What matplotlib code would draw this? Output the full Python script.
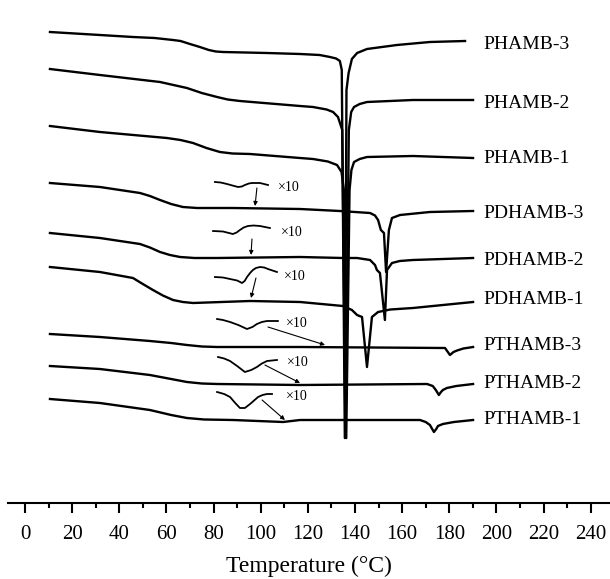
import matplotlib
matplotlib.use("agg")
import matplotlib.pyplot as plt

plt.rcParams['font.family'] = ['Liberation Serif', 'DejaVu Serif']

# DSC heating curves, temperature (deg C) and stacked heat flow (a.u.)
labels = ["PHAMB-3", "PHAMB-2", "PHAMB-1",
          "PDHAMB-3", "PDHAMB-2", "PDHAMB-1",
          "PTHAMB-3", "PTHAMB-2", "PTHAMB-1"]

phamb3_t = [10.6, 31.8, 45.8, 55.0, 62.8, 66.0, 70.0, 74.2, 78.0, 81.0, 84.0,
            102.7, 116.7, 125.0, 129.4, 132.0, 133.6, 134.4, 135.7, 136.4,
            137.3, 138.7, 140.9, 145.1, 157.8, 171.8, 186.7]
phamb3_v = [471, 468, 466, 465, 463, 462, 459, 456, 453, 451.5, 451,
            450, 449, 448, 446, 444.5, 442, 433, 65, 413,
            430, 444, 450, 454, 458, 461, 462]

phamb2_t = [10.6, 31.8, 57.3, 63.0, 68.7, 75.0, 81.5, 86.0, 91.2, 116.7, 122.2,
            128.0, 130.7, 132.8, 134.6, 136.0, 137.4, 138.4, 139.6, 142.0,
            145.1, 164.6, 190.1]
phamb2_v = [434, 428, 421, 418, 415, 410, 406, 403.5, 402, 397, 396,
            393.5, 391, 386, 373, 65, 373, 391, 396, 399,
            401, 403, 403]

phamb1_t = [10.6, 31.8, 60.2, 66.0, 71.3, 77.0, 82.7, 88.0, 95.5, 116.7, 122.2,
            128.5, 132.4, 134.3, 135.3, 136.3, 137.7, 138.5, 139.6, 142.0,
            145.1, 164.6, 190.1]
phamb1_v = [377, 371, 365, 363, 360, 355, 351, 349.5, 349, 345, 344,
            341.5, 338, 331, 313, 65, 313, 333, 341, 344,
            346, 347, 345]

pdhamb3_t = [10.6, 31.8, 48.8, 53.0, 57.3, 62.0, 67.0, 73.0, 88.2, 116.7, 133.6,
             146.4, 148.5, 149.8, 151.0, 152.3, 153.2, 154.4, 155.7, 159.1,
             171.8, 190.1]
pdhamb3_v = [320, 316, 310, 307, 303, 299, 296, 295, 295, 294, 292,
             290, 287.5, 283, 273, 270, 231, 273, 285, 288,
             291, 292]

pdhamb2_t = [10.6, 31.8, 48.8, 53.0, 57.3, 61.5, 65.8, 72.0, 81.5, 116.7, 134.9,
             140.9, 146.4, 148.5, 149.3, 150.6, 152.7, 153.6, 155.7, 159.0,
             164.6, 190.1]
pdhamb2_v = [270, 265, 259, 255.5, 251, 248, 246, 245, 245, 246, 245,
             245, 243, 238, 233, 230, 183, 233, 240, 242,
             243, 245]

pdhamb1_t = [10.6, 31.8, 45.8, 50.0, 54.3, 58.5, 62.8, 67.0, 71.3, 95.5, 116.7,
             134.9, 138.7, 140.9, 143.0, 145.1, 147.2, 149.8, 155.0, 164.6,
             190.1]
pdhamb1_v = [236, 231, 225, 219, 213, 207.5, 203, 201, 200, 202, 201,
             197, 193, 188, 186, 136, 186, 191, 193.5, 195,
             201]

pthamb3_t = [10.6, 31.8, 53.0, 62.0, 68.7, 75.0, 81.5, 116.7, 178.2, 180.3,
             181.8, 183.3, 186.0, 190.1]
pthamb3_v = [169, 166, 162, 160, 158, 156.5, 156, 156, 155, 148,
             151, 152.5, 154.5, 156]

pthamb2_t = [10.6, 31.8, 53.0, 62.0, 68.7, 75.0, 81.5, 116.7, 170.6, 173.0,
             174.3, 175.6, 176.5, 177.3, 179.0, 183.0, 190.1]
pthamb2_v = [137, 134, 128, 124, 121, 119.5, 119, 118, 119, 117,
             113, 108, 111, 113, 115, 117, 119]

pthamb1_t = [10.6, 31.8, 53.0, 62.0, 68.7, 76.0, 88.2, 109.5, 116.7, 167.6,
             170.0, 171.8, 173.5, 174.5, 175.2, 177.3, 182.0, 190.1]
pthamb1_v = [104, 100, 93, 88, 85, 83.5, 83, 81, 83, 83,
             81, 78, 71, 74, 77, 79, 81, 83]

curves_t = [phamb3_t, phamb2_t, phamb1_t, pdhamb3_t, pdhamb2_t, pdhamb1_t,
            pthamb3_t, pthamb2_t, pthamb1_t]
curves_v = [phamb3_v, phamb2_v, phamb1_v, pdhamb3_v, pdhamb2_v, pdhamb1_v,
            pthamb3_v, pthamb2_v, pthamb1_v]
label_v = [459, 400, 345, 290, 243, 204, 158, 120, 83]

# x10 magnified glass transition insets
inset_t = [[80.6, 83.0, 85.7, 88.0, 90.4, 92.0, 93.3, 95.0, 96.3, 99.7, 103.1],
           [79.8, 84.0, 88.2, 89.8, 91.2, 92.8, 94.6, 97.0, 99.7, 103.9],
           [80.6, 84.0, 87.0, 90.0, 92.1, 93.2, 94.2, 95.5, 96.7, 98.0, 99.7,
            101.5, 103.1, 106.9],
           [81.5, 84.0, 87.0, 90.5, 94.2, 96.5, 98.4, 100.5, 102.7, 107.3],
           [81.9, 84.5, 87.0, 90.0, 93.3, 96.0, 98.4, 100.5, 102.7, 106.9],
           [81.5, 84.5, 87.0, 89.2, 91.2, 93.3, 95.5, 98.9, 100.8, 102.7, 104.8]]
inset_v = [[321, 320.5, 319, 317.5, 316, 316.5, 318, 319.5, 320, 320, 318],
           [272, 271.5, 269, 270.5, 273, 275.5, 277, 277.5, 277, 275],
           [226, 225.5, 224, 222.5, 220, 222, 226, 230, 233, 235, 236,
            235.5, 234, 231],
           [184, 183, 181, 178, 174, 176, 179, 181, 182, 182],
           [146, 144.5, 142, 137, 131, 133, 136, 139.5, 142, 143],
           [111, 109, 106, 100, 95, 95, 99, 106, 108, 109, 109]]
inset_text = [(112.0, 316), (113.3, 271), (114.6, 227),
              (115.4, 180), (115.8, 141), (115.4, 106)]
arrow_from = [(98.4, 315), (96.3, 264), (98.0, 225),
              (103.1, 176), (101.8, 138), (100.6, 103)]
arrow_to = [(97.6, 297), (95.9, 248), (95.9, 205),
            (127.3, 158), (116.7, 120), (110.3, 83)]

fig = plt.figure(figsize=(6.10, 5.79), dpi=100)
ax = fig.add_axes([8 / 610, 1 - 503 / 579, 602 / 610, 503 / 579])

for t, v, lab, lv in zip(curves_t, curves_v, labels, label_v):
    ax.plot(t, v, color="black", lw=1.7, solid_joinstyle="round")
    ax.text(194.3, lv, lab, fontsize=14, ha="left", va="center")

for t, v, (tx, ty), a0, a1 in zip(inset_t, inset_v, inset_text, arrow_from, arrow_to):
    ax.plot(t, v, color="black", lw=1.3, solid_joinstyle="round")
    ax.text(tx, ty, "\u00d710", fontsize=10, ha="center", va="center")
    ax.annotate("", xy=a1, xytext=a0,
                arrowprops=dict(arrowstyle="-|>", color="black", lw=0.8,
                                mutation_scale=6, shrinkA=0, shrinkB=0))

ax.set_xlim(-7.2, 248.2)
ax.set_ylim(0, 503)
for s in ["top", "left", "right"]:
    ax.spines[s].set_visible(False)
ax.spines["bottom"].set_linewidth(1.5)
ax.set_yticks([])
ax.set_xticks(range(0, 241, 20))
ax.set_xticks(range(10, 241, 20), minor=True)
ax.tick_params(axis="x", which="major", direction="out", length=7, width=1.5,
               labelsize=15, pad=9)
ax.tick_params(axis="x", which="minor", direction="out", length=3.6, width=1.5)
ax.set_xlabel("Temperature (\u00b0C)", fontsize=17, labelpad=8)

fig.savefig("out.png", dpi=100)
